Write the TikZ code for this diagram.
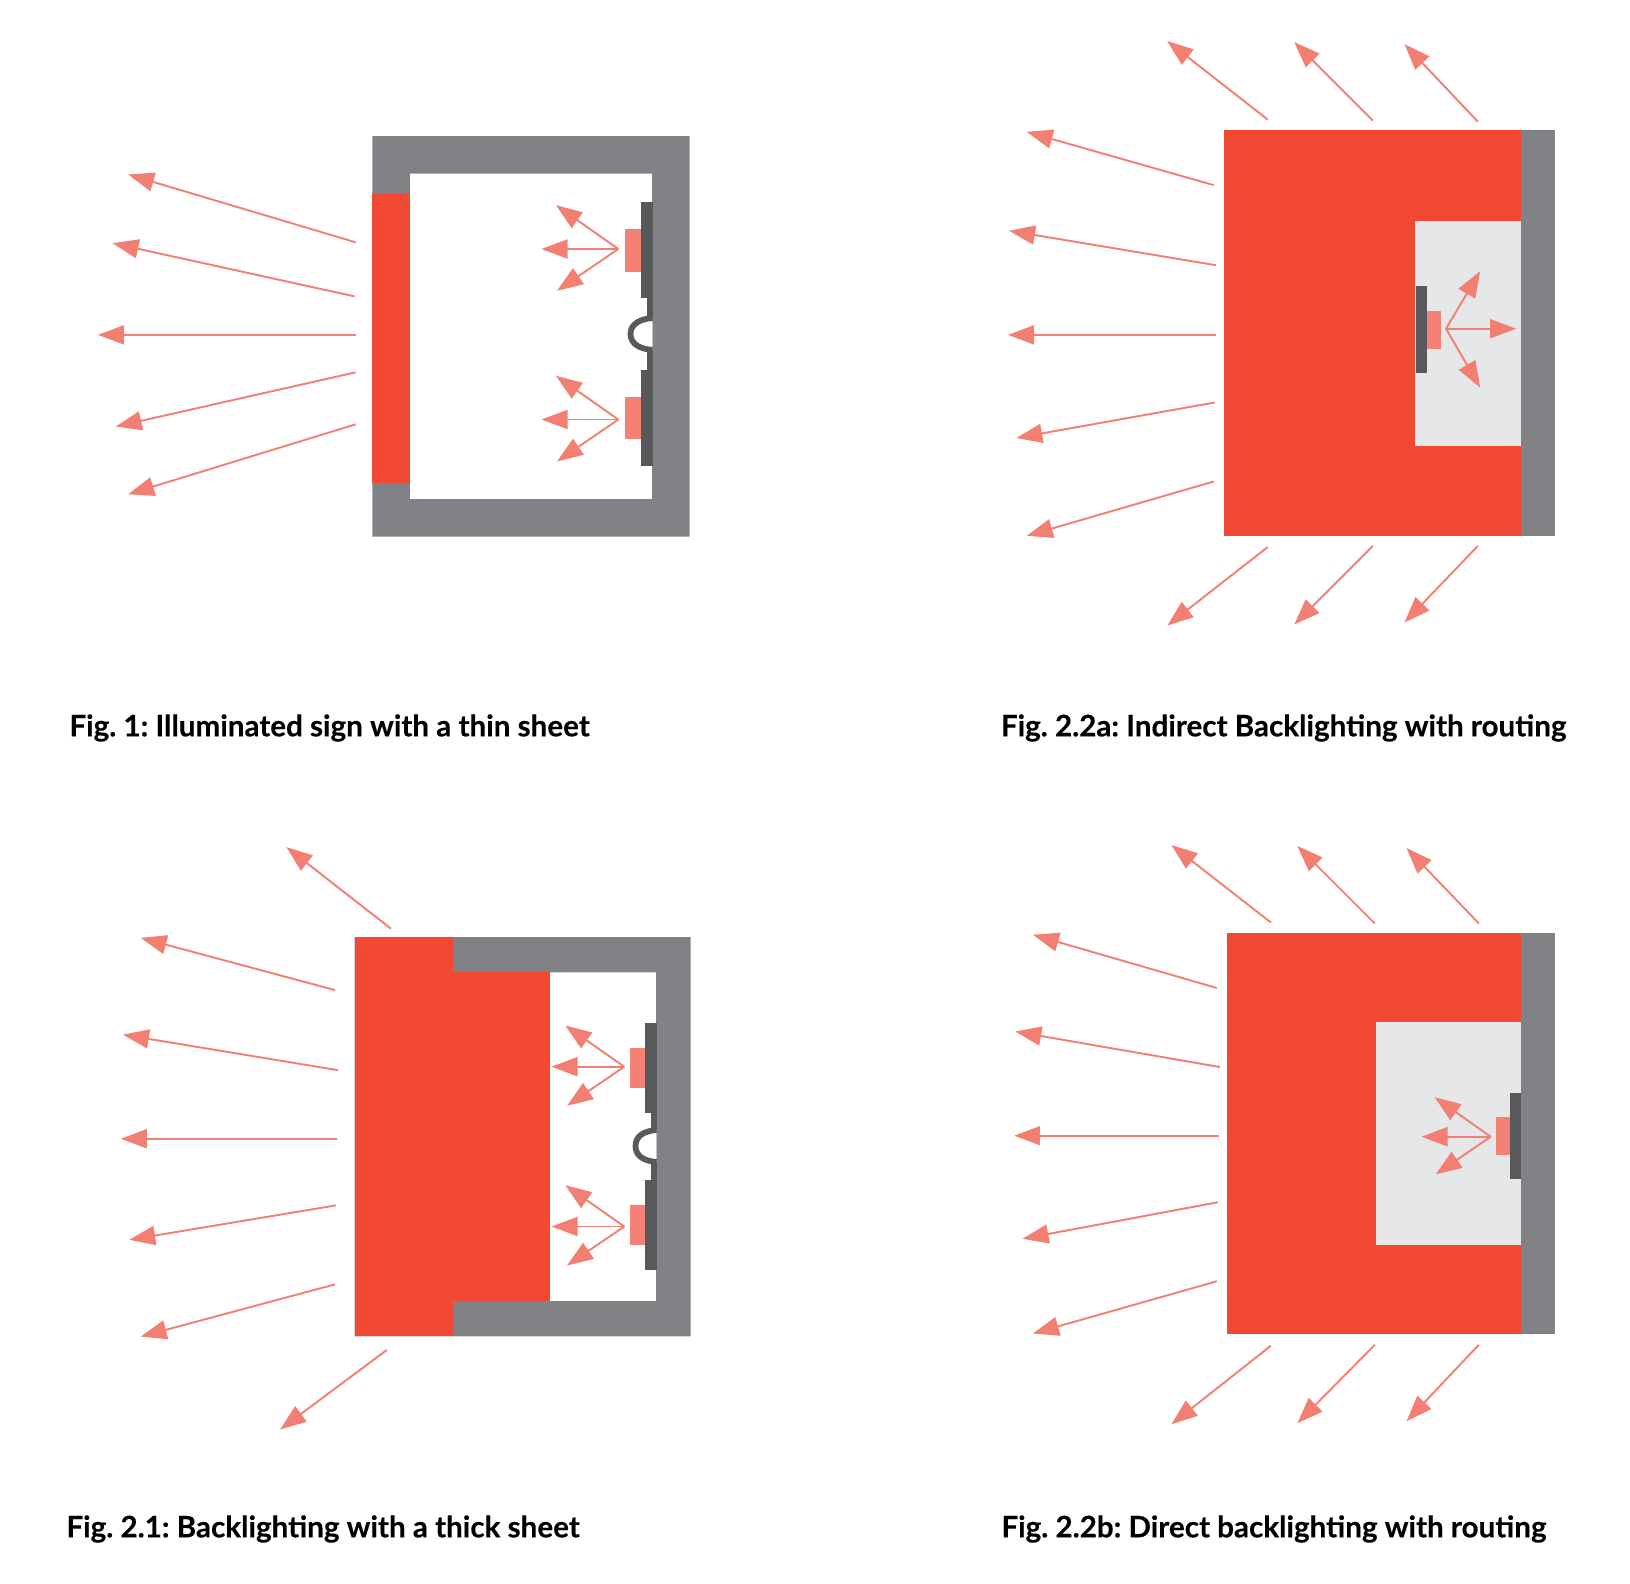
\documentclass[tikz,border=0pt]{standalone}
\usepackage{fontspec}
\setmainfont{Lato}[BoldFeatures={FakeBold=0.25}]
\usetikzlibrary{arrows.meta}
\definecolor{sheet}{HTML}{F24934}
\definecolor{frame}{HTML}{808285}
\definecolor{plate}{HTML}{58595B}
\definecolor{led}{HTML}{F58174}
\definecolor{ray}{HTML}{F27F72}
\definecolor{cavity}{HTML}{E6E7E8}
\tikzset{
  lightray/.style={draw=ray,line width=0.95pt,shorten >=-0.4pt,-{Triangle[length=13pt,width=9.5pt,color=ray]}},
  sheetfill/.style={fill=sheet},
  framefill/.style={fill=frame},
  platefill/.style={fill=plate},
  ledfill/.style={fill=led},
  cavityfill/.style={fill=cavity},
  clip wire/.style={draw=plate,line width=2.9pt,fill=white},
  caption/.style={anchor=west,inner sep=0pt,font=\bfseries\fontsize{14.8}{17}\selectfont\frenchspacing,text=black}
}
\newcommand{\raysfrom}[2]{\foreach \t in {#2}{\draw[lightray] (#1) -- (\t);}}
\begin{document}
\begin{tikzpicture}[x=0.5pt,y=-0.5pt]
\useasboundingbox (0,0) rectangle (1630,1584);
% ===== Fig 1
\begin{scope}[scale=1.04]
  \fill[framefill,even odd rule] (358,131) rectangle (663,516) (394,167) rectangle (627,480);
  \fill[sheetfill] (358,186) rectangle (394,464);
  \draw[lightray] (342,233) -- (124,168);
  \draw[lightray] (341,285) -- (109,234);
  \draw[lightray] (342,322) -- (95,322);
  \draw[lightray] (342,358) -- (112,410);
  \draw[lightray] (342,408) -- (124,475);
\end{scope}
\fill[platefill] (647,298) rectangle (653,370);
\draw[clip wire] (652.5,318) .. controls (640,319) and (630.5,324) .. (630.5,334) .. controls (630.5,344) and (640,349) .. (652.5,350);
\fill[platefill] (640.8,202) rectangle (652.7,298);
\fill[platefill] (640.8,370) rectangle (652.7,466);
\fill[ledfill] (624.7,229) rectangle (640.8,271.7);
\fill[ledfill] (624.7,397) rectangle (640.8,439.3);
\raysfrom{618.3,249}{{556.7,205.7},{542.3,249},{557.7,290.3}}
\raysfrom{618.3,419.5}{{556.7,376.3},{542.3,419.5},{557.7,461}}
\node[caption] (cap1) at (69,728) {Fig. 1: Illuminated sign with a thin sheet};
% ===== Fig 2.2a
\begin{scope}[scale=1.04]
  \fill[sheetfill] (1177,125) rectangle (1463,515);
  \draw[lightray] (1219,115) -- (1123,40);
  \draw[lightray] (1320,116) -- (1245,41);
  \draw[lightray] (1421,117) -- (1351,43);
  \draw[lightray] (1167,178) -- (988,127);
  \draw[lightray] (1169,255) -- (971,222);
  \draw[lightray] (1169,322) -- (970,322);
  \draw[lightray] (1168,387) -- (978,421);
  \draw[lightray] (1167,463) -- (988,515);
  \draw[lightray] (1219,526) -- (1123,601);
  \draw[lightray] (1320,525) -- (1245,600);
  \draw[lightray] (1421,525) -- (1351,598);
\end{scope}
\fill[framefill] (1521,130) rectangle (1554.5,535.6);
\fill[cavityfill] (1415,220.7) rectangle (1521,445.7);
\fill[platefill] (1415.7,286) rectangle (1427,373.3);
\fill[ledfill] (1427,310.7) rectangle (1440.7,348.7);
\raysfrom{1446,328.7}{{1479.7,272},{1515.3,328.7},{1479.7,386.7}}
\node[caption] (cap2) at (1000.5,728) {Fig. 2.2a: Indirect Backlighting with routing};
% ===== Fig 2.1
\begin{scope}[scale=1.04]
  \fill[framefill,even odd rule] (341,901) rectangle (664,1285) (436,935) rectangle (631,1251);
  \fill[sheetfill] (341,901) rectangle (436,1285);
  \fill[sheetfill] (436,935) rectangle (529,1251);
  \draw[lightray] (376,893) -- (276,815);
  \draw[lightray] (322,952) -- (136,902);
  \draw[lightray] (325,1029) -- (119,995);
  \draw[lightray] (324,1095) -- (117,1095);
  \draw[lightray] (323,1159) -- (125,1192);
  \draw[lightray] (322,1235) -- (136,1285);
  \draw[lightray] (372,1298) -- (270,1374);
\end{scope}
\fill[platefill] (651,1113) rectangle (656.5,1180);
\draw[clip wire] (656.5,1130) .. controls (644,1131) and (635.5,1136) .. (635.5,1146) .. controls (635.5,1156) and (644,1161) .. (656.5,1162);
\fill[platefill] (645.3,1022.7) rectangle (656.5,1113.3);
\fill[platefill] (645.3,1180) rectangle (656.5,1270);
\fill[ledfill] (630,1048.3) rectangle (645.3,1087.7);
\fill[ledfill] (630,1205.3) rectangle (645.3,1245);
\raysfrom{624.3,1066.7}{{566,1026},{552.3,1066.7},{567.7,1105.3}}
\raysfrom{624.3,1226.5}{{566,1185.7},{552.3,1226.5},{567.7,1265}}
\node[caption] (cap3) at (66,1529) {Fig. 2.1: Backlighting with a thick sheet};
% ===== Fig 2.2b
\begin{scope}[scale=1.04]
  \fill[sheetfill] (1180,897) rectangle (1463,1283);
  \draw[lightray] (1222,887) -- (1127,813);
  \draw[lightray] (1322,888) -- (1248,814);
  \draw[lightray] (1422,888) -- (1353,816);
  \draw[lightray] (1170,950) -- (994,899);
  \draw[lightray] (1173,1026) -- (977,992);
  \draw[lightray] (1172,1092) -- (976,1092);
  \draw[lightray] (1171,1156) -- (984,1191);
  \draw[lightray] (1170,1232) -- (994,1282);
  \draw[lightray] (1222,1294) -- (1127,1369);
  \draw[lightray] (1322,1293) -- (1248,1368);
  \draw[lightray] (1422,1293) -- (1353,1366);
\end{scope}
\fill[framefill] (1521,932.9) rectangle (1554.5,1334.3);
\fill[cavityfill] (1375.7,1022.3) rectangle (1521,1245);
\fill[platefill] (1510.3,1092.7) rectangle (1521,1178.7);
\fill[ledfill] (1496,1116.7) rectangle (1510.3,1154.7);
\raysfrom{1490.7,1136.7}{{1435.3,1097.7},{1422.3,1136.7},{1436.3,1174}}
\node[caption] (cap4) at (1001,1529) {Fig. 2.2b: Direct backlighting with routing};
\end{tikzpicture}
\end{document}
